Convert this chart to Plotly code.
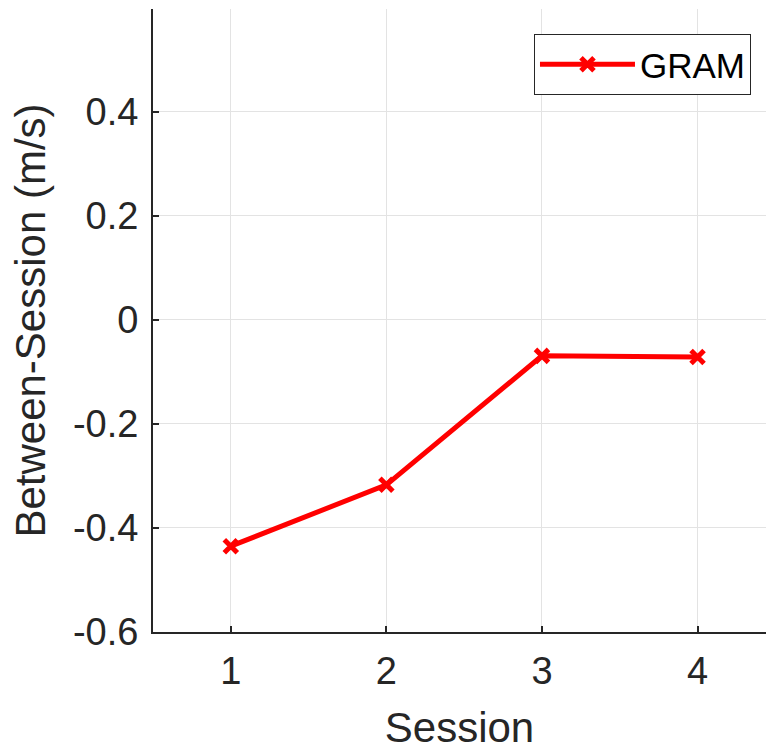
import plotly.graph_objects as go

sessions = [1, 2, 3, 4]
gram = [-0.435, -0.317, -0.069, -0.071]
y_ticks = [-0.6, -0.4, -0.2, 0, 0.2, 0.4]
y_tick_labels = ["-0.6", "-0.4", "-0.2", "0", "0.2", "0.4"]

FONT = "Arial, Liberation Sans, sans-serif"
AX = "#262626"

fig = go.Figure()
fig.add_trace(go.Scatter(
    x=sessions, y=gram, name="GRAM", mode="lines+markers",
    line=dict(color="#ff0000", width=5),
    marker=dict(symbol="x-thin", size=13, color="#ff0000",
                line=dict(color="#ff0000", width=5)),
))

fig.update_layout(
    width=766, height=751,
    margin=dict(l=153, r=0, t=9, b=119),
    plot_bgcolor="white", paper_bgcolor="white",
    font=dict(family=FONT, size=38, color=AX),
    showlegend=True,
    legend=dict(x=0.9755, xanchor="right", y=0.96, yanchor="top",
                bgcolor="white", bordercolor=AX, borderwidth=1,
                font=dict(size=35, color="black"),
                itemwidth=95, tracegroupgap=0),
)
fig.update_xaxes(
    range=[0.5, 4.44], tickvals=sessions, ticktext=[str(s) for s in sessions],
    showline=True, linecolor=AX, linewidth=2, mirror=False,
    ticks="inside", ticklen=6, tickwidth=2, tickcolor=AX,
    showgrid=True, gridcolor="#e3e3e3", gridwidth=1, zeroline=False,
    tickfont=dict(size=38, color=AX), ticklabelstandoff=4,
    title=dict(text="Session", font=dict(size=42, color=AX), standoff=22),
)
fig.update_yaxes(
    range=[-0.6, 0.598], tickvals=y_ticks, ticktext=y_tick_labels,
    showline=True, linecolor=AX, linewidth=2, mirror=False,
    ticks="inside", ticklen=6, tickwidth=2, tickcolor=AX,
    showgrid=True, gridcolor="#e3e3e3", gridwidth=1, zeroline=False,
    tickfont=dict(size=38, color=AX), ticklabelstandoff=5,
    title=dict(text="Between-Session (m/s)", font=dict(size=42, color=AX), standoff=14),
)

fig.write_html("out.html")
